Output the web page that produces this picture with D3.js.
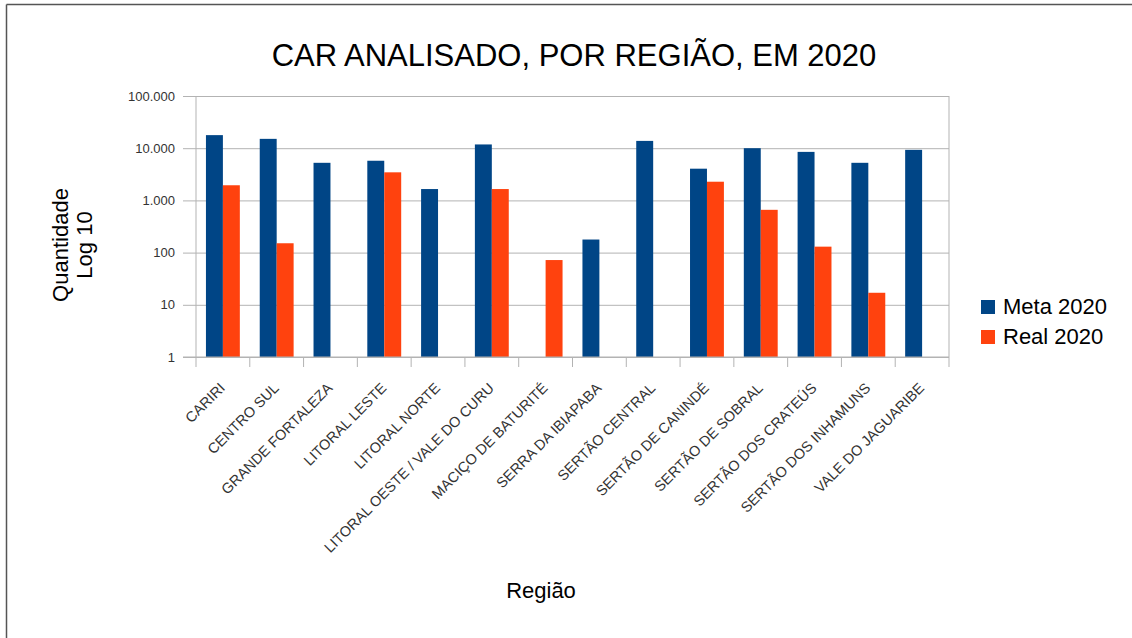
<!DOCTYPE html>
<html>
<head>
<meta charset="utf-8">
<script src="https://cdn.jsdelivr.net/npm/d3@7"></script>
<style>
  body { margin: 0; background: #fff; }
  text { font-family: "Liberation Sans", Arial, sans-serif; }
</style>
</head>
<body>
<svg id="chart" width="1132" height="638"></svg>
<script>
// chart data
var regions = ['CARIRI', 'CENTRO SUL', 'GRANDE FORTALEZA', 'LITORAL LESTE', 'LITORAL NORTE',
  'LITORAL OESTE / VALE DO CURU', 'MACIÇO DE BATURITÉ', 'SERRA DA IBIAPABA', 'SERTÃO CENTRAL',
  'SERTÃO DE CANINDÉ', 'SERTÃO DE SOBRAL', 'SERTÃO DOS CRATEÚS', 'SERTÃO DOS INHAMUNS', 'VALE DO JAGUARIBE']
var meta2020 = [17800, 15100, 5250, 5750, 1650, 11800, null, 178, 13800, 4050, 10000, 8500, 5250, 9300]
var real2020 = [1950, 151, null, 3450, null, 1650, 72, null, null, 2280, 660, 130, 17, null]
var seriesNames = ['Meta 2020', 'Real 2020']
var yTicks = [1, 10, 100, 1000, 10000, 100000]

var colors = { 'Meta 2020': '#004586', 'Real 2020': '#ff420e' }

var svg = d3.select('#chart')
var margin = {top: 96, right: 183, bottom: 281, left: 196},
  width = 1132 - margin.left - margin.right,
  height = 638 - margin.top - margin.bottom

// frame of the picture (only top and left edges show)
svg.append('line').attr('x1', 6.5).attr('x2', 1132).attr('y1', 4.5).attr('y2', 4.5)
  .attr('stroke', '#555').attr('stroke-width', 1.5)
svg.append('line').attr('x1', 6.5).attr('x2', 6.5).attr('y1', 4.5).attr('y2', 638)
  .attr('stroke', '#555').attr('stroke-width', 1.5)

var g = svg.append('g').attr('transform', 'translate(' + margin.left + ',' + margin.top + ')')

var x = d3.scaleBand().domain(regions).range([0, width]).paddingInner(0.37).paddingOuter(0.185)
var xs = d3.scaleBand().domain(seriesNames).range([0, x.bandwidth()])
var y = d3.scaleLog().domain([1, 100000]).range([height, 0])

var locale = d3.formatLocale({decimal: ',', thousands: '.', grouping: [3], currency: ['R$', '']})
var fmt = locale.format(',d')

// gridlines + left ticks
g.append('g')
  .call(d3.axisLeft(y).tickValues(yTicks).tickSize(13).tickFormat(''))
  .call(a => a.select('.domain').remove())
  .selectAll('line').attr('stroke', '#b3b3b3')
g.append('g')
  .call(d3.axisLeft(y).tickValues(yTicks).tickSize(-width).tickFormat(fmt).tickPadding(21))
  .call(a => a.select('.domain').remove())
  .call(a => a.selectAll('line').attr('stroke', '#b3b3b3'))
  .call(a => a.selectAll('text').attr('fill', '#333').style('font-size', '13px')
    .style('font-family', '"Liberation Sans", Arial, sans-serif'))

// plot borders left / right
g.append('line').attr('x1', 0).attr('x2', 0).attr('y1', 0).attr('y2', height).attr('stroke', '#b3b3b3')
g.append('line').attr('x1', width).attr('x2', width).attr('y1', 0).attr('y2', height + 10).attr('stroke', '#b3b3b3')

// x tick marks between categories
var step = x.step()
g.append('g').selectAll('line')
  .data(d3.range(regions.length))
  .enter().append('line')
  .attr('x1', i => x(regions[i]) - x.paddingOuter() * step)
  .attr('x2', i => x(regions[i]) - x.paddingOuter() * step)
  .attr('y1', height).attr('y2', height + 10)
  .attr('stroke', '#b3b3b3')

// x labels
g.append('g').selectAll('text')
  .data(regions)
  .enter().append('text')
  .attr('transform', d => 'translate(' + (x(d) + x.bandwidth() / 2 + 3) + ',' + (height + 32) + ') rotate(-45)')
  .attr('text-anchor', 'end')
  .attr('fill', '#333')
  .style('font-size', '14.5px')
  .text(d => d)

// bars
var rows = []
regions.forEach(function(r, i) {
  if (meta2020[i] != null) rows.push({region: r, series: 'Meta 2020', value: meta2020[i]})
  if (real2020[i] != null) rows.push({region: r, series: 'Real 2020', value: real2020[i]})
})
g.append('g').selectAll('rect')
  .data(rows)
  .enter().append('rect')
  .attr('x', d => x(d.region) + xs(d.series))
  .attr('y', d => y(d.value))
  .attr('width', xs.bandwidth())
  .attr('height', d => height - y(d.value))
  .attr('fill', d => colors[d.series])

// bottom baseline
g.append('line').attr('x1', -13).attr('x2', width).attr('y1', height).attr('y2', height).attr('stroke', '#b3b3b3')

// title
svg.append('text').attr('x', 574).attr('y', 66).attr('text-anchor', 'middle')
  .style('font-size', '31px').attr('fill', '#000')
  .text('CAR ANALISADO, POR REGIÃO, EM 2020')

// axis titles
var yt = svg.append('text').attr('transform', 'translate(68,245) rotate(-90)')
  .attr('text-anchor', 'middle').style('font-size', '22px').attr('fill', '#000')
yt.append('tspan').attr('x', 0).attr('dy', 0).text('Quantidade')
yt.append('tspan').attr('x', 0).attr('dy', 24).text('Log 10')

svg.append('text').attr('x', 541).attr('y', 598).attr('text-anchor', 'middle')
  .style('font-size', '22px').attr('fill', '#000').text('Região')

// legend
var leg = svg.append('g').attr('transform', 'translate(981,300)')
seriesNames.forEach(function(s, i) {
  var row = leg.append('g').attr('transform', 'translate(0,' + i * 30 + ')')
  row.append('rect').attr('width', 14).attr('height', 14).attr('fill', colors[s])
  row.append('text').attr('x', 22).attr('y', 14).style('font-size', '22px').attr('fill', '#000').text(s)
})
</script>
</body>
</html>
